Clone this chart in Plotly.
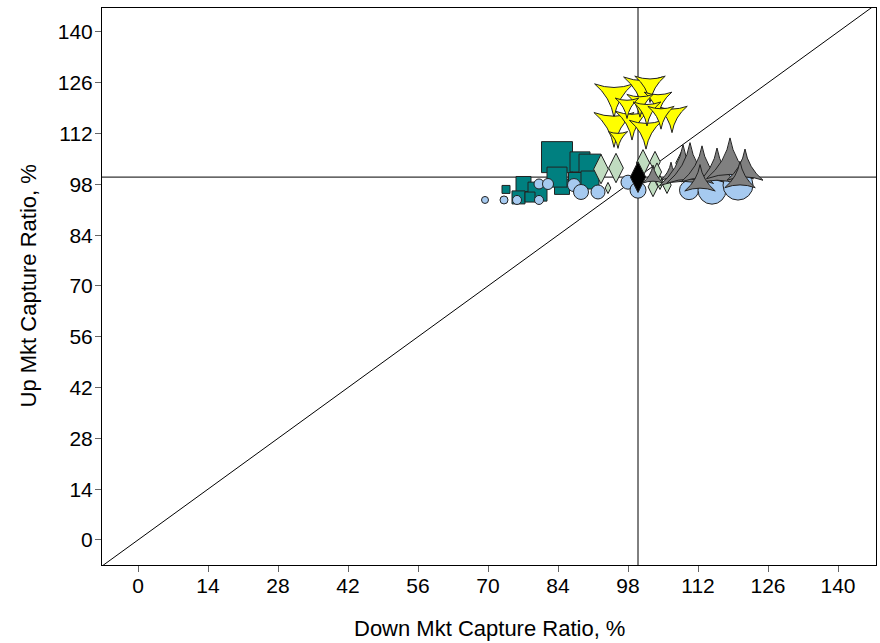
import plotly.graph_objects as go

# Teal squares
sq_x = [83.8, 88.4, 90.4, 73.6, 77.1, 76.1, 79.9, 78.4, 84.8, 87.6, 90.4, 83.8]
sq_y = [105.5, 104.2, 103.3, 96.6, 98.1, 94.4, 96.0, 94.5, 97.3, 99.2, 99.2, 100.0]
sq_s = [31, 20, 22, 8, 15, 13, 19, 10, 15, 15, 18, 20]

# Light blue circles
ci_x = [69.4, 73.2, 75.8, 80.2, 80.2, 82.0, 87.2, 88.6, 92.0, 98.0, 100.0, 113.0, 110.2, 114.8, 120.0]
ci_y = [93.7, 93.7, 93.7, 93.7, 98.1, 98.1, 97.8, 95.9, 95.9, 98.6, 96.4, 100.6, 96.4, 96.4, 97.8]
ci_s = [7, 8, 9, 9, 10, 11, 13, 15, 14, 14, 16, 18, 19, 28, 30]

# Light green diamonds
di_x = [92.6, 95.6, 94.0, 101.0, 103.4, 103.8, 103.0, 105.8, 108.6, 104.4]
di_y = [102.2, 102.5, 97.0, 103.9, 104.2, 101.4, 97.3, 97.8, 103.9, 98.5]
di_s = [21, 21, 8, 19, 15, 13, 14, 12, 15, 10]

# Gray stars
gr_x = [103.0, 106.6, 109.0, 110.4, 112.8, 115.8, 118.4, 121.4, 112.4, 120.4]
gr_y = [100.0, 100.8, 101.4, 102.0, 102.0, 101.4, 103.3, 102.0, 98.6, 99.5]
gr_s = [15, 15, 34, 34, 30, 30, 34, 26, 22, 22]

# Yellow stars
ye_x = [95.2, 101.0, 102.4, 95.2, 98.8, 101.6, 106.8, 104.0, 100.4, 97.8, 101.8, 104.6, 96.0]
ye_y = [122.6, 124.5, 125.4, 114.6, 115.5, 113.0, 117.1, 121.2, 120.7, 119.9, 118.5, 117.4, 111.0]
ye_s = [28, 28, 22, 29, 24, 24, 22, 20, 19, 17, 20, 19, 14]

# Benchmark
bm_x = [100.0]
bm_y = [100.0]

x_ticks = [0, 14, 28, 42, 56, 70, 84, 98, 112, 126, 140]
y_ticks = [0, 14, 28, 42, 56, 70, 84, 98, 112, 126, 140]
x_range = [-7.2, 147.6]
y_range = [-6.9, 146.6]

FONT = "Liberation Sans, Arial"
outline = dict(color="#222222", width=1)
fig = go.Figure()

# diagonal and crosshair lines
fig.add_trace(go.Scatter(x=[x_range[0], x_range[1]], y=[x_range[0], x_range[1]], mode="lines",
                         line=dict(color="black", width=1), hoverinfo="skip", showlegend=False))
fig.add_trace(go.Scatter(x=[100, 100], y=y_range, mode="lines",
                         line=dict(color="black", width=1), hoverinfo="skip", showlegend=False))
fig.add_trace(go.Scatter(x=x_range, y=[100, 100], mode="lines",
                         line=dict(color="black", width=1), hoverinfo="skip", showlegend=False))

fig.add_trace(go.Scatter(x=sq_x, y=sq_y, mode="markers", showlegend=False,
                         marker=dict(symbol="square", size=sq_s, color="#008080", opacity=1, line=outline)))
fig.add_trace(go.Scatter(x=di_x, y=di_y, mode="markers", showlegend=False,
                         marker=dict(symbol="diamond-tall", size=di_s, color="#c0dcc0", opacity=1, line=outline)))
fig.add_trace(go.Scatter(x=ci_x, y=ci_y, mode="markers", showlegend=False,
                         marker=dict(symbol="circle", size=ci_s, color="#a6caf0", opacity=1, line=outline)))
fig.add_trace(go.Scatter(x=gr_x, y=gr_y, mode="markers", showlegend=False,
                         marker=dict(symbol="star-triangle-up", size=gr_s, color="#808080", opacity=1, line=outline)))
fig.add_trace(go.Scatter(x=ye_x, y=ye_y, mode="markers", showlegend=False,
                         marker=dict(symbol="star-triangle-down", size=ye_s, color="#ffff00", opacity=1, line=outline)))
fig.add_trace(go.Scatter(x=bm_x, y=bm_y, mode="markers", showlegend=False,
                         marker=dict(symbol="diamond-tall", size=22, color="#000000", opacity=1, line=outline)))

axis_common = dict(showgrid=False, zeroline=False, showline=True, linecolor="black", linewidth=1,
                   mirror=True, ticks="outside", ticklen=6, tickcolor="#666666", automargin=False,
                   tickfont=dict(family=FONT, size=21, color="black"))
fig.update_xaxes(range=x_range, tickvals=x_ticks, ticktext=[str(v) for v in x_ticks],
                 ticklabelstandoff=-4, **axis_common)
fig.update_yaxes(range=y_range, tickvals=y_ticks, ticktext=[str(v) for v in y_ticks],
                 ticklabelstandoff=-2, **axis_common)
fig.add_annotation(text="Down Mkt Capture Ratio, %", xref="paper", yref="paper", x=0.5, y=0,
                   xanchor="center", yanchor="middle", yshift=-63, showarrow=False,
                   font=dict(family=FONT, size=22, color="black"))
fig.add_annotation(text="Up Mkt Capture Ratio, %", xref="paper", yref="paper", x=0, y=0.5,
                   xanchor="center", yanchor="middle", xshift=-74, textangle=-90, showarrow=False,
                   font=dict(family=FONT, size=22, color="black"))
fig.update_layout(width=880, height=643, margin=dict(l=102, r=4, t=8, b=78),
                  plot_bgcolor="white", paper_bgcolor="white")
fig.write_html("out.html", config={"displayModeBar": False},
               post_script="document.body.style.margin='0';document.body.style.overflow='hidden';")
